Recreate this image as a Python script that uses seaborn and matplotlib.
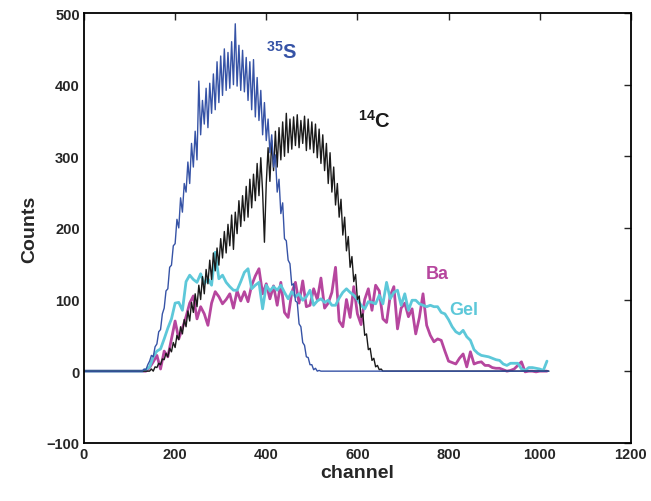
import numpy as np
import pandas as pd
import matplotlib
matplotlib.use("Agg")
import matplotlib.pyplot as plt
import seaborn as sns

# ---------------- data ----------------
# 35S spectrum, one value every 4 channels (0..1020)
s35_counts = ([0] * 32 +
    [0, 3, 2, 9, 14, 22, 20, 34,                # 128
     38, 55, 58, 80, 88, 112, 115, 145,         # 160
     148, 175, 178, 212, 200, 242, 222, 262,    # 192
     250, 292, 262, 318, 285, 335, 295, 405,    # 224
     330, 378, 345, 395, 340, 402, 360, 415,    # 256
     365, 432, 375, 440, 385, 450, 392, 445,    # 288
     395, 460, 400, 485, 398, 455, 392, 448,    # 320
     390, 438, 378, 432, 365, 435, 355, 410,    # 352
     350, 392, 330, 375, 322, 352, 305, 330,    # 384
     285, 302, 250, 268, 220, 235, 185, 182,    # 416
     155, 150, 120, 122, 98, 96, 66, 62,        # 448
     40, 36, 20, 19, 9, 9, 2, 4,                # 480
     0, 1] +                                    # 512
    [0] * 126)

# 14C spectrum, one value every 4 channels (0..1020)
c14_counts = ([0] * 36 +
    [0, 3, 0, 6, 5, 11, 9, 17,                  # 144
     16, 25, 20, 32, 27, 40, 33, 50,            # 176
     44, 62, 52, 72, 62, 84, 70, 96,            # 208
     82, 108, 90, 120, 100, 132, 108, 142,      # 240
     122, 155, 128, 165, 140, 172, 148, 185,    # 272
     158, 195, 165, 205, 175, 218, 170, 222,    # 304
     192, 238, 202, 245, 210, 258, 215, 268,    # 336
     228, 275, 238, 290, 245, 298, 250, 180,    # 368
     262, 312, 265, 322, 280, 335, 285, 340,    # 400
     295, 348, 300, 360, 305, 352, 310, 355,    # 432
     315, 358, 312, 350, 318, 356, 308, 352,    # 464
     310, 348, 305, 345, 298, 338, 290, 330,    # 496
     280, 318, 262, 305, 250, 285, 232, 262,    # 528
     215, 240, 190, 215, 168, 188, 145, 160,    # 560
     125, 135, 100, 105, 75, 80, 50, 52,        # 592
     30, 32, 15, 18, 6, 8, 2, 3] +              # 624
    [0] * 92)

# Ba spectrum, one value every 8 channels (0..1016)
ba_counts = [
    0, 0, 0, 0, 0, 0, 0, 0,                   # 0
    0, 0, 0, 0, 0, 0, 0, 0,                   # 64
    0, 0, 5, 13, 22, 3, 28, 20,               # 128
    45, 70, 45, 60, 76, 95, 105, 73,          # 192
    90, 80, 64, 95, 111, 104, 94, 100,        # 256
    108, 88, 112, 98, 111, 97, 120, 133,      # 320
    143, 108, 122, 101, 119, 92, 124, 82,     # 384
    75, 110, 124, 95, 126, 90, 92, 115,       # 448
    100, 130, 88, 95, 110, 145, 70, 62,       # 512
    100, 75, 118, 80, 65, 100, 115, 85,       # 576
    120, 112, 73, 68, 105, 118, 59, 88,       # 640
    95, 76, 87, 52, 75, 108, 64, 50,          # 704
    41, 45, 43, 28, 14, 12, 10, 18,           # 768
    24, 6, 27, 10, 12, 13, 8, 8,              # 832
    5, 4, 4, 2, 0, 1, 3, 8,                   # 896
    13, -1, 0, 0, -1, 0, 0, 0]                # 960

# Gel spectrum, one value every 8 channels (0..1016)
gel_counts = [
    0, 0, 0, 0, 0, 0, 0, 0,                   # 0
    0, 0, 0, 0, 0, 0, 0, 0,                   # 64
    0, 2, 6, 20, 28, 31, 45, 60,              # 128
    73, 95, 96, 85, 125, 134, 128, 124,       # 192
    136, 122, 129, 120, 166, 129, 134, 124,   # 256
    118, 113, 113, 125, 138, 143, 115, 120,   # 320
    124, 87, 120, 112, 118, 113, 120, 110,    # 384
    101, 111, 104, 108, 99, 104, 113, 92,     # 448
    98, 101, 96, 99, 92, 92, 102, 110,        # 512
    115, 110, 106, 100, 92, 87, 97, 96,       # 576
    94, 106, 94, 124, 101, 110, 113, 92,      # 640
    108, 85, 99, 99, 94, 92, 90, 92,          # 704
    90, 90, 82, 80, 72, 62, 55, 52,           # 768
    57, 48, 43, 30, 25, 22, 21, 20,           # 832
    18, 16, 15, 10, 8, 11, 11, 11,            # 896
    3, 1, 5, 5, 4, 3, 1, 14]                  # 960

x_ticks = [0, 200, 400, 600, 800, 1000, 1200]
y_ticks = [-100, 0, 100, 200, 300, 400, 500]

assert len(s35_counts) == 256 and len(c14_counts) == 256
assert len(ba_counts) == 128 and len(gel_counts) == 128

fine = pd.DataFrame({"channel": np.arange(256) * 4,
                     "s35": s35_counts, "c14": c14_counts})
coarse = pd.DataFrame({"channel": np.arange(128) * 8,
                       "ba": ba_counts, "gel": gel_counts})

# ---------------- style ----------------
sns.set_style("white")
plt.rcParams["font.family"] = ["Liberation Sans", "DejaVu Sans"]
plt.rcParams["font.weight"] = "bold"
plt.rcParams["mathtext.fontset"] = "custom"
plt.rcParams["mathtext.rm"] = "Liberation Sans"
plt.rcParams["mathtext.bf"] = "Liberation Sans:bold"

BLUE = "#3653A6"
BLACK = "#1A1A1A"
MAGENTA = "#B6469E"
CYAN = "#5DC8D9"

fig = plt.figure(figsize=(6.51, 5.02), dpi=100)
ax = fig.add_axes([0.129, 0.116, 0.840, 0.856])

sns.lineplot(data=coarse, x="channel", y="ba", ax=ax, color=MAGENTA,
             lw=2.0, estimator=None, sort=False)
sns.lineplot(data=coarse, x="channel", y="gel", ax=ax, color=CYAN,
             lw=2.0, estimator=None, sort=False)
sns.lineplot(data=fine, x="channel", y="c14", ax=ax, color=BLACK,
             lw=1.0, estimator=None, sort=False)
sns.lineplot(data=fine, x="channel", y="s35", ax=ax, color=BLUE,
             lw=1.0, estimator=None, sort=False)

ax.set_xlim(0, 1200)
ax.set_ylim(-100, 500)
ax.set_xticks(x_ticks)
ax.set_yticks(y_ticks)
ax.tick_params(direction="in", length=5, width=1, top=True, right=True,
               labelsize=10.5, pad=3)
for lab in ax.get_xticklabels() + ax.get_yticklabels():
    lab.set_fontweight("bold")
for sp in ax.spines.values():
    sp.set_visible(True)
    sp.set_color("black")
    sp.set_linewidth(1.3)

ax.set_xlabel("channel", fontsize=14, fontweight="bold", labelpad=2)
ax.set_ylabel("Counts", fontsize=14, fontweight="bold", labelpad=6)

tfs = 14.5
ax.text(399, 437, r"$\mathbf{^{35}S}$", color=BLUE, fontsize=tfs,
        ha="left", va="baseline")
ax.text(601, 341, r"$\mathbf{^{14}C}$", color=BLACK, fontsize=tfs,
        ha="left", va="baseline")
ax.text(750, 130, "Ba", color=MAGENTA, fontsize=13, fontweight="bold",
        ha="left", va="baseline")
ax.text(801, 80, "Gel", color=CYAN, fontsize=13, fontweight="bold",
        ha="left", va="baseline")

fig.savefig("out.png", dpi=100)
